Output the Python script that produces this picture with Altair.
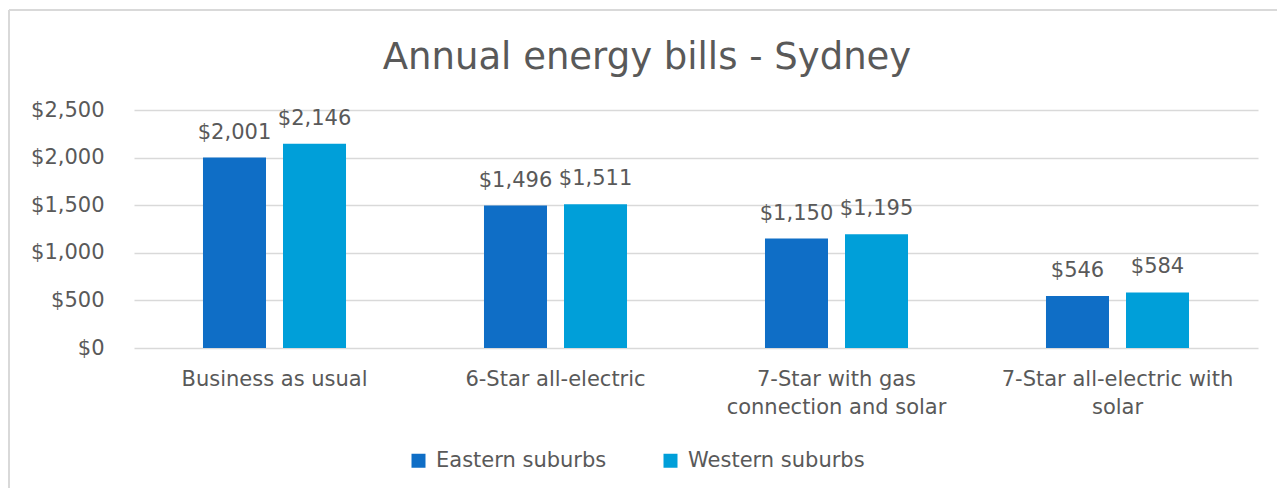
import altair as alt
import pandas as pd

categories = ["Business as usual", "6-Star all-electric",
              "7-Star with gas\nconnection and solar", "7-Star all-electric with\nsolar"]
series = ["Eastern suburbs", "Western suburbs"]
eastern = [2001, 1496, 1150, 546]
western = [2146, 1511, 1195, 584]
colors = ["#0F6EC6", "#009FD9"]
title_text = "Annual energy bills - Sydney"

rows = []
for c, e, w in zip(categories, eastern, western):
    rows.append({"cat": c, "series": series[0], "value": e})
    rows.append({"cat": c, "series": series[1], "value": w})
df = pd.DataFrame(rows)

FONT = "DejaVu Sans"
TXT = "#595959"
W, H = 1124, 238
FS = 21

x = alt.X("cat:N", sort=categories, title=None,
          scale=alt.Scale(paddingInner=0.491, paddingOuter=0.2455),
          axis=alt.Axis(labelAngle=0, labelFontSize=FS, labelColor=TXT, labelFont=FONT,
                        ticks=False, domain=False, labelPadding=20, labelLineHeight=28,
                        labelLimit=0, labelExpr="split(datum.label, '\\n')"))
xo = alt.XOffset("series:N", sort=series, scale=alt.Scale(paddingInner=0.2125, paddingOuter=0))
y = alt.Y("value:Q", title=None, scale=alt.Scale(domain=[0, 2500]),
          axis=alt.Axis(values=[0, 500, 1000, 1500, 2000, 2500], format="$,.0f",
                        labelFontSize=FS, labelColor=TXT, labelFont=FONT, ticks=False,
                        domain=False, labelPadding=30, gridColor="#D9D9D9", gridWidth=1.5))
color = alt.Color("series:N", sort=series, scale=alt.Scale(domain=series, range=colors),
                  legend=alt.Legend(title=None, orient="none", legendX=274, legendY=340,
                                    direction="horizontal", symbolType="square", symbolSize=196,
                                    labelFontSize=FS, labelColor=TXT, labelFont=FONT,
                                    labelOffset=7, columnPadding=53, padding=0,
                                    symbolStrokeWidth=0, labelLimit=0))

base = alt.Chart(df)
bars = base.mark_bar().encode(x=x, xOffset=xo, y=y, color=color)
labels = base.mark_text(fontSize=FS, font=FONT, color=TXT, baseline="alphabetic", dy=-19).encode(
    x=x, xOffset=xo, y=y, text=alt.Text("value:Q", format="$,.0f"))

frame = pd.DataFrame({"t": [title_text]})
left_border = alt.Chart(frame).mark_rule(color="#D9D9D9", strokeWidth=2, clip=False).encode(
    x=alt.value(-125), y=alt.value(-100), y2=alt.value(H + 140))
top_border = alt.Chart(frame).mark_rule(color="#D9D9D9", strokeWidth=2, clip=False).encode(
    x=alt.value(-125), x2=alt.value(W + 20), y=alt.value(-100))
title = alt.Chart(frame).mark_text(fontSize=37, font=FONT, color=TXT, align="center",
                                   baseline="alphabetic", clip=False).encode(
    x=alt.value(647 - 134), y=alt.value(69 - 110), text="t:N")

chart = alt.layer(left_border, top_border, bars, labels, title).properties(
    width=W, height=H,
    autosize=alt.AutoSizeParams(type="none"),
    padding={"left": 126, "top": 102, "right": 19, "bottom": 140},
    background="white",
).configure_view(stroke=None)

chart.save("out.html", embed_options={"renderer": "svg", "actions": False})
